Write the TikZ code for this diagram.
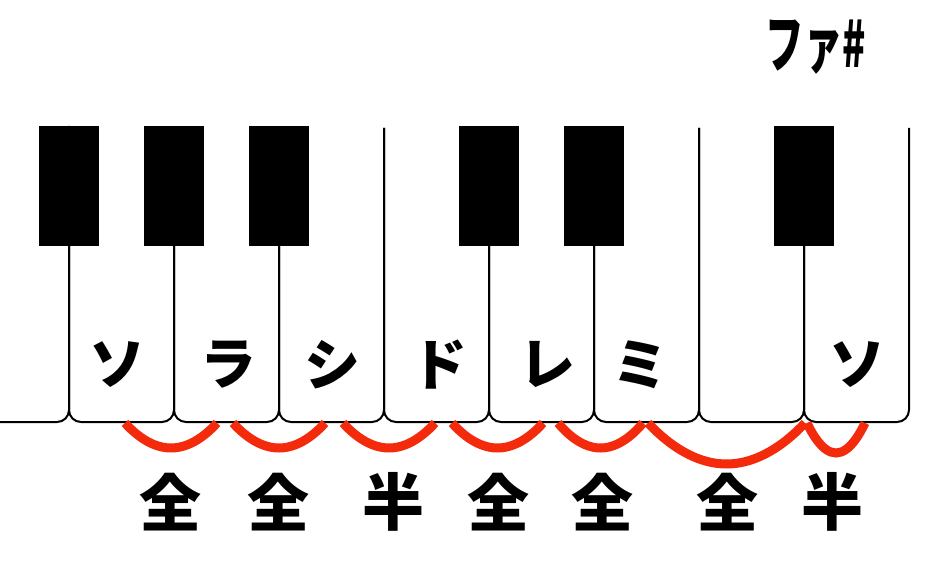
\documentclass[tikz,border=0pt]{standalone}
\usepackage{fontspec}
\newfontfamily\jpfont{Noto Sans CJK JP}
\usepackage[dvipsnames]{xcolor}
\definecolor{StepRed}{RGB}{243,42,12}

\begin{document}
\begin{tikzpicture}[x=1pt,y=-1pt,
  key/.style={line width=2pt,rounded corners=12pt},
  notename/.style={font=\jpfont\bfseries\fontsize{56}{56}\selectfont},
  stepline/.style={StepRed,line width=9pt},
  steplabel/.style={font=\jpfont\bfseries\fontsize{62}{62}\selectfont}]

\useasboundingbox[fill=white] (0,0) rectangle (933,561);

% White keys
\draw[key] (0,422) -- (69,422) -- (69,126);
\foreach \x in {69,174,...,804}
  \draw[key] (\x,128) |- ({\x+105},422) -- ({\x+105},128);

% Black keys
\foreach \x in {69,174,279,489,594,804}
  \fill ({\x-30},126) rectangle ({\x+30},246);

% Note names
\node[notename] (so)  at (117,365) {ソ};
\node[notename] (ra)  at (228,365) {ラ};
\node[notename] (shi) at (332,365) {シ};
\node[notename] (do)  at (439,365) {ド};
\node[notename] (re)  at (547,365) {レ};
\node[notename] (mi)  at (640,365) {ミ};
\node[notename] (sob) at (857,365) {ソ};

\node[font=\jpfont\bfseries\fontsize{64}{64}\selectfont] (fa) at (816,47) {\scalebox{0.6}[1]{ファ\#}};

% Whole and half steps
\foreach \i/\a/\b/\d in {1/125/217/448, 2/233/325/448, 3/343/435/448,
    4/452/543/448, 5/558/643/448, 6/648/805/464, 7/807/865/453}{
  \coordinate (l\i) at (\a,423);
  \coordinate (r\i) at (\b,423);
  \coordinate (m\i) at ({(\a+\b)/2},\d);
  \draw[stepline] (l\i) parabola bend (m\i) (r\i);
}

\node[steplabel] (t1) at (170,502) {全};
\node[steplabel] (t2) at (278,502) {全};
\node[steplabel] (t3) at (393,502) {半};
\node[steplabel] (t4) at (498,502) {全};
\node[steplabel] (t5) at (602,502) {全};
\node[steplabel] (t6) at (727,502) {全};
\node[steplabel] (t7) at (832,502) {半};

\end{tikzpicture}
\end{document}
